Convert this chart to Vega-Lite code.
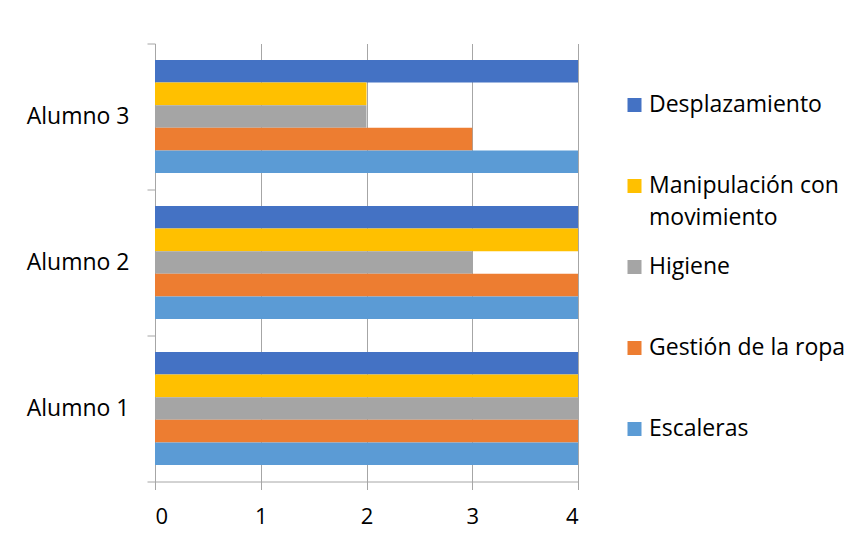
{
  "$schema": "https://vega.github.io/schema/vega-lite/v6.json",
  "width": 423,
  "height": 438,
  "autosize": {"type": "none"},
  "padding": {"left": 155, "top": 43.5, "right": 283, "bottom": 58.5},
  "background": "white",
  "config": {
    "view": {"stroke": null},
    "font": "Open Sans",
    "axis": {"labelFont": "Open Sans", "labelColor": "#000000", "labelFontSize": 23},
    "style": {"guide-label": {"lineHeight": 32}}
  },
  "data": {
    "values": [
      {"alumno": "Alumno 1", "area": "Desplazamiento", "valor": 4},
      {"alumno": "Alumno 1", "area": "Manipulación con movimiento", "valor": 4},
      {"alumno": "Alumno 1", "area": "Higiene", "valor": 4},
      {"alumno": "Alumno 1", "area": "Gestión de la ropa", "valor": 4},
      {"alumno": "Alumno 1", "area": "Escaleras", "valor": 4},
      {"alumno": "Alumno 2", "area": "Desplazamiento", "valor": 4},
      {"alumno": "Alumno 2", "area": "Manipulación con movimiento", "valor": 4},
      {"alumno": "Alumno 2", "area": "Higiene", "valor": 3},
      {"alumno": "Alumno 2", "area": "Gestión de la ropa", "valor": 4},
      {"alumno": "Alumno 2", "area": "Escaleras", "valor": 4},
      {"alumno": "Alumno 3", "area": "Desplazamiento", "valor": 4},
      {"alumno": "Alumno 3", "area": "Manipulación con movimiento", "valor": 2},
      {"alumno": "Alumno 3", "area": "Higiene", "valor": 2},
      {"alumno": "Alumno 3", "area": "Gestión de la ropa", "valor": 3},
      {"alumno": "Alumno 3", "area": "Escaleras", "valor": 4}
    ]
  },
  "mark": {"type": "bar"},
  "encoding": {
    "y": {
      "field": "alumno",
      "type": "nominal",
      "sort": ["Alumno 3", "Alumno 2", "Alumno 1"],
      "scale": {"paddingInner": 0, "paddingOuter": 0},
      "axis": {
        "title": null,
        "tickBand": "extent",
        "domainColor": "#a6a6a6",
        "tickColor": "#a6a6a6",
        "tickSize": 8,
        "labelPadding": 18,
        "grid": false
      }
    },
    "yOffset": {
      "field": "area",
      "type": "nominal",
      "sort": ["Desplazamiento", "Manipulación con movimiento", "Higiene", "Gestión de la ropa", "Escaleras"],
      "scale": {"paddingInner": 0, "paddingOuter": 0.73}
    },
    "x": {
      "field": "valor",
      "type": "quantitative",
      "scale": {"domain": [0, 4], "nice": false},
      "axis": {
        "title": null,
        "values": [0, 1, 2, 3, 4],
        "grid": true,
        "gridColor": "#a6a6a6",
        "domainColor": "#a6a6a6",
        "tickColor": "#a6a6a6",
        "tickSize": 8,
        "labelPadding": 17,
        "labelFontSize": 22,
        "format": "d"
      }
    },
    "color": {
      "field": "area",
      "type": "nominal",
      "sort": ["Desplazamiento", "Manipulación con movimiento", "Higiene", "Gestión de la ropa", "Escaleras"],
      "scale": {
        "domain": ["Desplazamiento", "Manipulación con movimiento", "Higiene", "Gestión de la ropa", "Escaleras"],
        "range": ["#4472C4", "#FFC000", "#A5A5A5", "#ED7D31", "#5B9BD5"]
      },
      "legend": {
        "title": null,
        "orient": "none",
        "legendX": 468,
        "legendY": 50,
        "symbolType": "square",
        "symbolSize": 196,
        "symbolStrokeWidth": 0,
        "labelFont": "Open Sans",
        "labelFontSize": 23,
        "labelColor": "#000000",
        "labelOffset": 3,
        "labelLimit": 300,
        "rowPadding": 25,
        "labelExpr": "datum.label == 'Manipulación con movimiento' ? ['Manipulación con', 'movimiento'] : [datum.label, '']"
      }
    }
  }
}
